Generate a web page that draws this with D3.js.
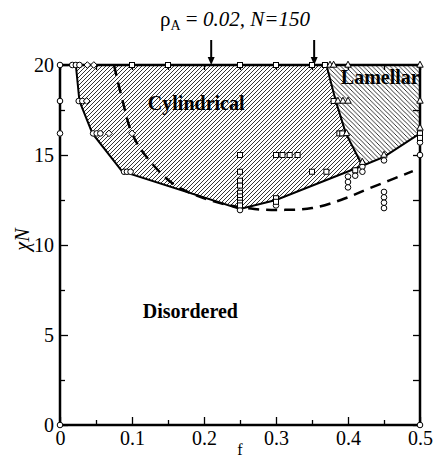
<!DOCTYPE html>
<html>
<head>
<meta charset="utf-8">
<script src="https://cdn.jsdelivr.net/npm/d3@7"></script>
<style>
  body { margin: 0; background: #fff; }
  text { font-family: "Liberation Serif", "Times New Roman", serif; }
</style>
</head>
<body>
<div id="chart"></div>
<script>
// phase boundaries, [f, chiN]
var odtBoundary = [[0.022,20],[0.027,18],[0.045,16.2],[0.086,14.1],[0.25,12.0],[0.30,12.5],[0.42,14.4],[0.45,14.9],[0.5,16.2]];
var cylLamBoundary = [[0.37,20],[0.383,18],[0.397,16.2],[0.42,14.4]];
// mean field curve (dashed)
var meanFieldCurve = [[0.075,20],[0.087,18],[0.1,16.2],[0.12,14.9],[0.157,13.4],[0.19,12.75],[0.23,12.25],[0.27,12.0],[0.31,11.95],[0.35,12.05],[0.39,12.5],[0.43,13.15],[0.49,14.1]];
var arrowF = [0.21, 0.353];

// simulation points
var disorderedPts = [[0,20],[0,18],[0,16.2],[0,0],[0.5,0],
  [0.017,20],[0.022,20],[0.027,20],
  [0.026,18],[0.031,18],
  [0.046,16.2],[0.051,16.2],[0.056,16.2],
  [0.089,14.07],[0.093,14.07],[0.098,14.07],
  [0.25,12.1],[0.25,11.94],[0.30,12.2],
  [0.40,13.8],[0.40,13.5],[0.40,13.2],[0.41,13.85],
  [0.42,14.35],[0.42,14.07],[0.45,14.7],
  [0.45,12.95],[0.45,12.65],[0.45,12.35],[0.45,12.05],
  [0.5,15.0],[0.5,15.7]];
var diamondPts = [[0.038,20],[0.047,20],[0.037,18],[0.068,16.2],[0.1,16.2]];
var cylinderPts = [[0.1,20],[0.15,20],[0.25,20],[0.3,20],[0.35,20],[0.368,20],
  [0.38,18],[0.388,16.2],[0.392,16.2],
  [0.25,15],[0.30,15],[0.309,15],[0.319,15],[0.33,15],
  [0.25,14.07],[0.35,14.07],[0.37,14.07],[0.41,14.15],
  [0.25,13.57],[0.25,13.3],[0.25,12.9],[0.25,12.7],[0.25,12.5],[0.25,12.35],[0.25,12.2],
  [0.30,12.6],[0.30,12.4],
  [0.5,16.2],[0.5,15.95]];
var lamellarPts = [[0.375,20],[0.38,20],[0.4,20],[0.5,20],
  [0.386,18],[0.393,18],[0.4,18],[0.5,18],
  [0.398,16.2],[0.5,16.5],[0.42,14.6],[0.45,15.0]];

var xMajorTicks = [0,0.1,0.2,0.3,0.4,0.5];
var xMinorTicks = [0.05,0.15,0.25,0.35,0.45];
var yMajorTicks = [0,5,10,15,20];
var yMinorTicks = [2.5,7.5,12.5,17.5];

var width = 433, height = 460;

var x = d3.scaleLinear().domain([0,0.5]).range([60,420]);
var y = d3.scaleLinear().domain([0,20]).range([425,65]);

var svg = d3.select("#chart").append("svg")
    .attr("width", width)
    .attr("height", height);

var defs = svg.append("defs");
defs.append("pattern")
    .attr("id", "hatchCyl")
    .attr("patternUnits", "userSpaceOnUse")
    .attr("width", 4).attr("height", 4)
  .append("path")
    .attr("d", "M-1,1 L1,-1 M0,4 L4,0 M3,5 L5,3")
    .attr("stroke", "#000")
    .attr("stroke-width", 0.8);
defs.append("pattern")
    .attr("id", "hatchLam")
    .attr("patternUnits", "userSpaceOnUse")
    .attr("width", 4.5).attr("height", 4.5)
  .append("path")
    .attr("d", "M-1,3.5 L1,5.5 M0,0 L4.5,4.5 M3.5,-1 L5.5,1")
    .attr("stroke", "#000")
    .attr("stroke-width", 0.8);

var line = d3.line().x(d => x(d[0])).y(d => y(d[1]));

// hatched regions
var cylPoly = cylLamBoundary.concat(odtBoundary.slice(0,6).reverse());
var lamPoly = [[0.5,20]].concat(odtBoundary.slice(6).reverse(), cylLamBoundary.slice().reverse());

svg.append("path")
    .attr("d", line(cylPoly) + "Z")
    .attr("fill", "url(#hatchCyl)");
svg.append("path")
    .attr("d", line(lamPoly) + "Z")
    .attr("fill", "url(#hatchLam)");

// region labels
svg.append("text")
    .attr("x", x(0.122)).attr("y", y(17.5))
    .attr("font-size", 20).attr("font-weight", "bold")
    .text("Cylindrical");
svg.append("text")
    .attr("x", x(0.39)).attr("y", y(18.95))
    .attr("font-size", 20).attr("font-weight", "bold")
    .text("Lamellar");
svg.append("text")
    .attr("x", x(0.115)).attr("y", y(5.95))
    .attr("font-size", 20).attr("font-weight", "bold")
    .text("Disordered");

// dashed curve
svg.append("path")
    .attr("d", d3.line().curve(d3.curveCatmullRom).x(d => x(d[0])).y(d => y(d[1]))(meanFieldCurve))
    .attr("fill", "none")
    .attr("stroke", "#000")
    .attr("stroke-width", 2.5)
    .attr("stroke-dasharray", "11,7");

// boundaries
[odtBoundary, cylLamBoundary].forEach(b => {
  svg.append("path")
      .attr("d", line(b))
      .attr("fill", "none")
      .attr("stroke", "#000")
      .attr("stroke-width", 2);
});

// frame
svg.append("rect")
    .attr("x", x(0)).attr("y", y(20))
    .attr("width", x(0.5) - x(0))
    .attr("height", y(0) - y(20))
    .attr("fill", "none")
    .attr("stroke", "#000")
    .attr("stroke-width", 2.5);

// axes, ticks pointing inside
function styleAxis(g) {
  g.select(".domain").remove();
  g.selectAll(".tick line").attr("stroke", "#000").attr("stroke-width", 1.3);
  g.selectAll(".tick text")
      .attr("fill", "#000")
      .attr("font-family", "Liberation Serif, Times New Roman, serif")
      .attr("font-size", 20);
}

svg.append("g")
    .attr("transform", `translate(${x(0)},0)`)
    .call(d3.axisLeft(y).tickValues(yMajorTicks).tickSize(-8).tickPadding(6).tickFormat(d3.format("d")))
    .call(styleAxis);
svg.append("g")
    .attr("transform", `translate(${x(0)},0)`)
    .call(d3.axisLeft(y).tickValues(yMinorTicks).tickSize(-5).tickFormat(""))
    .call(styleAxis);
svg.append("g")
    .attr("transform", `translate(${x(0.5)},0)`)
    .call(d3.axisRight(y).tickValues(yMajorTicks.concat(yMinorTicks)).tickSize(-7).tickFormat(""))
    .call(styleAxis);
svg.append("g")
    .attr("transform", `translate(0,${y(0)})`)
    .call(d3.axisBottom(x).tickValues(xMajorTicks).tickSize(-8).tickPadding(6).tickFormat(d => d === 0 ? "0" : d3.format(".1f")(d)))
    .call(styleAxis);
svg.append("g")
    .attr("transform", `translate(0,${y(0)})`)
    .call(d3.axisBottom(x).tickValues(xMinorTicks).tickSize(-5).tickFormat(""))
    .call(styleAxis);
svg.append("g")
    .attr("transform", `translate(0,${y(20)})`)
    .call(d3.axisTop(x).tickValues(xMajorTicks.concat(xMinorTicks)).tickSize(-5).tickFormat(""))
    .call(styleAxis);

// axis titles
svg.append("text")
    .attr("transform", `translate(29,${y(10.3)}) rotate(-90)`)
    .attr("text-anchor", "middle")
    .attr("font-size", 20)
    .attr("font-style", "italic")
    .text("\u03C7N");
svg.append("text")
    .attr("x", 240).attr("y", 455)
    .attr("text-anchor", "middle")
    .attr("font-size", 16)
    .text("f");

// title
var title = svg.append("text")
    .attr("x", 160).attr("y", 26)
    .attr("font-size", 21);
title.append("tspan").text("\u03C1");
title.append("tspan").attr("font-size", 14).attr("dy", 4).text("A");
title.append("tspan").attr("dy", -4).text(" = ");
title.append("tspan").attr("font-style", "italic").text("0.02, N=150");

// arrows
arrowF.forEach(f => {
  var ax = x(f);
  svg.append("line")
      .attr("x1", ax).attr("x2", ax)
      .attr("y1", 40).attr("y2", y(20) - 6)
      .attr("stroke", "#000").attr("stroke-width", 2);
  svg.append("path")
      .attr("d", `M${ax-3.5},${y(20)-8} L${ax+3.5},${y(20)-8} L${ax},${y(20)} Z`)
      .attr("fill", "#000");
});

// markers
function marker(pts, shape) {
  var g = svg.append("g")
      .attr("fill", "#fff")
      .attr("stroke", "#000")
      .attr("stroke-width", 1);
  pts.forEach(p => {
    var px = x(p[0]), py = y(p[1]);
    if (shape === "circle") {
      g.append("circle").attr("cx", px).attr("cy", py).attr("r", 2.8);
    } else if (shape === "square") {
      g.append("rect").attr("x", px - 2.5).attr("y", py - 2.5).attr("width", 5).attr("height", 5);
    } else if (shape === "diamond") {
      g.append("path").attr("d", `M${px},${py-3.3} L${px+3.3},${py} L${px},${py+3.3} L${px-3.3},${py} Z`);
    } else {
      g.append("path").attr("d", `M${px},${py-3.8} L${px+3.2},${py+2.2} L${px-3.2},${py+2.2} Z`);
    }
  });
}
marker(disorderedPts, "circle");
marker(diamondPts, "diamond");
marker(cylinderPts, "square");
marker(lamellarPts, "triangle");
</script>
</body>
</html>
